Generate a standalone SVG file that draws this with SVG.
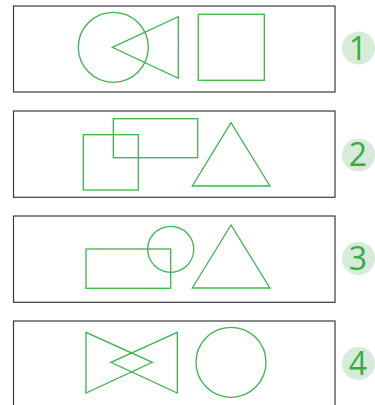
<svg xmlns="http://www.w3.org/2000/svg" width="375" height="405" viewBox="0 0 375 405">
<style>
.frame{fill:#fff;stroke:#3a3a3a;stroke-width:1.2}
.sh{fill:none;stroke:#3cb54a;stroke-width:1.3;stroke-linejoin:miter}
.badge{fill:#d6ecd8}
.num{fill:#3aab47;font-family:"Open Sans","Liberation Sans",sans-serif;font-size:32px;text-anchor:middle}
</style>
<rect width="375" height="405" fill="#fff"/>
<g id="panel1">
<rect class="frame" x="13.5" y="6" width="321.5" height="86"/>
<circle class="sh" cx="113.3" cy="47.3" r="35"/>
<polygon class="sh" points="112.3,47.3 178.3,16.7 178.3,78.3"/>
<rect class="sh" x="198.3" y="14.3" width="66" height="66"/>
<circle class="badge" cx="358.5" cy="48" r="16.5"/>
<text class="num" x="358" y="59.5">1</text>
</g>
<g id="panel2">
<rect class="frame" x="13.5" y="111" width="321.5" height="86.3"/>
<rect class="sh" x="113.3" y="118.7" width="84.4" height="39"/>
<rect class="sh" x="83.3" y="134.7" width="55" height="55.3"/>
<polygon class="sh" points="231,122.7 192.3,186 270,186"/>
<circle class="badge" cx="358.5" cy="155" r="16.5"/>
<text class="num" x="358" y="165.5">2</text>
</g>
<g id="panel3">
<rect class="frame" x="13.5" y="216" width="321.5" height="86.3"/>
<rect class="sh" x="86" y="249" width="84.7" height="39.3"/>
<circle class="sh" cx="170.7" cy="249.3" r="23"/>
<polygon class="sh" points="231,225 192.3,288 270,288"/>
<circle class="badge" cx="358.5" cy="258.5" r="16.5"/>
<text class="num" x="358" y="270">3</text>
</g>
<g id="panel4">
<rect class="frame" x="13.5" y="321" width="321.5" height="100"/>
<polygon class="sh" points="86,332.3 86,393 152.3,362.3"/>
<polygon class="sh" points="177.3,332.3 177.3,393 111,362.3"/>
<circle class="sh" cx="231" cy="362.3" r="35"/>
<circle class="badge" cx="358.5" cy="363.5" r="16.5"/>
<text class="num" x="358" y="375">4</text>
</g>
</svg>
